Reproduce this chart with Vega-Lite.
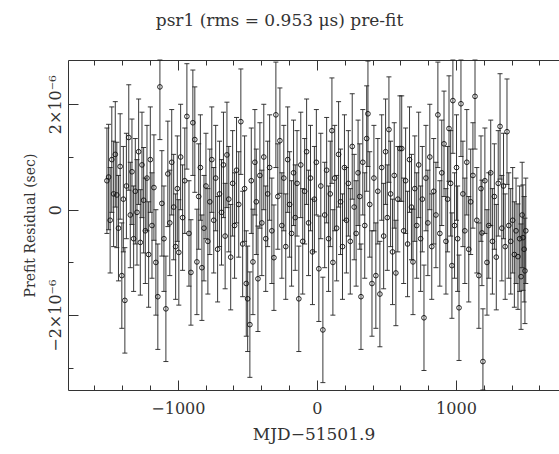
{
  "$schema": "https://vega.github.io/schema/vega-lite/v6.json",
  "width": 491,
  "height": 330,
  "autosize": {"type": "none"},
  "padding": {"left": 68, "top": 60, "right": 0, "bottom": 64},
  "background": "white",
  "title": {
    "text": "psr1 (rms = 0.953 μs) pre-fit",
    "font": "DejaVu Serif",
    "fontSize": 17,
    "fontWeight": "normal",
    "color": "#333",
    "anchor": "middle",
    "frame": "group",
    "dx": -34,
    "offset": 28
  },
  "config": {
    "view": {"stroke": "#333", "strokeWidth": 1, "fill": null},
    "axis": {
      "labelFont": "DejaVu Serif",
      "titleFont": "DejaVu Serif",
      "labelFontSize": 16,
      "titleFontSize": 17,
      "titleFontWeight": "normal",
      "labelColor": "#333",
      "titleColor": "#333",
      "domainColor": "#333",
      "tickColor": "#333",
      "domainWidth": 1,
      "tickWidth": 1,
      "grid": false,
      "labelOverlap": false,
      "zindex": 1
    }
  },
  "data": {
    "values": [
      {"mjd": -1510, "res": 0.55, "err": 1.0},
      {"mjd": -1498, "res": 0.62, "err": 1.0},
      {"mjd": -1487, "res": -0.2, "err": 1.0},
      {"mjd": -1475, "res": 0.95, "err": 1.0},
      {"mjd": -1462, "res": 0.3, "err": 1.0},
      {"mjd": -1450, "res": 1.05, "err": 1.0},
      {"mjd": -1439, "res": 0.28, "err": 1.0},
      {"mjd": -1427, "res": -0.35, "err": 1.0},
      {"mjd": -1415, "res": 0.82, "err": 1.0},
      {"mjd": -1403, "res": -1.25, "err": 1.0},
      {"mjd": -1392, "res": 0.2, "err": 1.0},
      {"mjd": -1381, "res": -1.72, "err": 1.0},
      {"mjd": -1370, "res": 0.45, "err": 1.0},
      {"mjd": -1353, "res": 1.37, "err": 1.0},
      {"mjd": -1342, "res": -0.1, "err": 1.0},
      {"mjd": -1330, "res": 0.72, "err": 1.0},
      {"mjd": -1318, "res": -0.55, "err": 1.0},
      {"mjd": -1306, "res": 0.35, "err": 1.0},
      {"mjd": -1294, "res": -0.05, "err": 1.0},
      {"mjd": -1282, "res": 1.1, "err": 1.0},
      {"mjd": -1270, "res": -0.62, "err": 1.0},
      {"mjd": -1258, "res": 0.85, "err": 1.0},
      {"mjd": -1246, "res": 0.18, "err": 1.0},
      {"mjd": -1234, "res": -0.4, "err": 1.0},
      {"mjd": -1222, "res": 0.6, "err": 1.0},
      {"mjd": -1210, "res": -0.85, "err": 1.0},
      {"mjd": -1198, "res": 0.95, "err": 1.0},
      {"mjd": -1186, "res": -0.3, "err": 1.0},
      {"mjd": -1172, "res": 0.42, "err": 1.0},
      {"mjd": -1158, "res": -1.0, "err": 1.0},
      {"mjd": -1144, "res": -1.65, "err": 1.0},
      {"mjd": -1129, "res": 2.33, "err": 1.0},
      {"mjd": -1115, "res": 0.12, "err": 1.0},
      {"mjd": -1100, "res": -0.55, "err": 1.0},
      {"mjd": -1086, "res": -1.88, "err": 1.0},
      {"mjd": -1072, "res": 0.68, "err": 1.0},
      {"mjd": -1058, "res": -0.25, "err": 1.0},
      {"mjd": -1044, "res": 0.9, "err": 1.0},
      {"mjd": -1030, "res": 0.05, "err": 1.0},
      {"mjd": -1016, "res": -0.7, "err": 1.0},
      {"mjd": -1004, "res": 0.4, "err": 1.0},
      {"mjd": -993, "res": -0.81, "err": 1.0},
      {"mjd": -980, "res": 1.0, "err": 1.0},
      {"mjd": -966, "res": -0.15, "err": 1.0},
      {"mjd": -950, "res": 0.55, "err": 1.0},
      {"mjd": -935, "res": 1.77, "err": 1.0},
      {"mjd": -920, "res": -0.45, "err": 1.0},
      {"mjd": -906, "res": -1.19, "err": 1.0},
      {"mjd": -892, "res": 1.65, "err": 1.0},
      {"mjd": -878, "res": 1.33, "err": 1.0},
      {"mjd": -863, "res": -0.99, "err": 1.0},
      {"mjd": -850, "res": 0.25, "err": 1.0},
      {"mjd": -838, "res": 0.8, "err": 1.0},
      {"mjd": -827, "res": -1.1, "err": 1.0},
      {"mjd": -812, "res": -0.35, "err": 1.0},
      {"mjd": -798, "res": 0.45, "err": 1.0},
      {"mjd": -784, "res": -0.6, "err": 1.0},
      {"mjd": -770, "res": 0.15, "err": 1.0},
      {"mjd": -756, "res": 0.95, "err": 1.0},
      {"mjd": -742, "res": -0.2, "err": 1.0},
      {"mjd": -728, "res": 0.6, "err": 1.0},
      {"mjd": -714, "res": -0.75, "err": 1.0},
      {"mjd": -700, "res": 0.3, "err": 1.0},
      {"mjd": -686, "res": -0.05, "err": 1.0},
      {"mjd": -672, "res": 0.85, "err": 1.0},
      {"mjd": -660, "res": -0.5, "err": 1.0},
      {"mjd": -647, "res": 1.04, "err": 1.0},
      {"mjd": -634, "res": 0.2, "err": 1.0},
      {"mjd": -620, "res": -0.9, "err": 1.0},
      {"mjd": -606, "res": 0.5, "err": 1.0},
      {"mjd": -592, "res": -0.3, "err": 1.0},
      {"mjd": -578, "res": 0.75, "err": 1.0},
      {"mjd": -562, "res": 0.1, "err": 1.0},
      {"mjd": -547, "res": 1.67, "err": 1.0},
      {"mjd": -534, "res": -0.65, "err": 1.0},
      {"mjd": -520, "res": 0.4, "err": 1.0},
      {"mjd": -508, "res": -1.4, "err": 1.0},
      {"mjd": -498, "res": -1.69, "err": 1.0},
      {"mjd": -482, "res": -2.18, "err": 1.0},
      {"mjd": -472, "res": 0.55, "err": 1.0},
      {"mjd": -460, "res": -0.99, "err": 1.0},
      {"mjd": -446, "res": 0.9, "err": 1.0},
      {"mjd": -436, "res": 0.15, "err": 1.0},
      {"mjd": -424, "res": -1.31, "err": 1.0},
      {"mjd": -410, "res": 0.65, "err": 1.0},
      {"mjd": -396, "res": -0.25, "err": 1.0},
      {"mjd": -382, "res": 1.0, "err": 1.0},
      {"mjd": -368, "res": -0.55, "err": 1.0},
      {"mjd": -354, "res": 0.3, "err": 1.0},
      {"mjd": -340, "res": 0.8, "err": 1.0},
      {"mjd": -324, "res": -0.4, "err": 1.0},
      {"mjd": -309, "res": -0.91, "err": 1.0},
      {"mjd": -295, "res": 1.8, "err": 1.0},
      {"mjd": -281, "res": 0.25, "err": 1.0},
      {"mjd": -266, "res": 1.31, "err": 1.0},
      {"mjd": -252, "res": -0.3, "err": 1.0},
      {"mjd": -238, "res": 0.6, "err": 1.0},
      {"mjd": -224, "res": -0.7, "err": 1.0},
      {"mjd": -210, "res": 0.95, "err": 1.0},
      {"mjd": -196, "res": 0.1, "err": 1.0},
      {"mjd": -182, "res": -0.45, "err": 1.0},
      {"mjd": -168, "res": 0.7, "err": 1.0},
      {"mjd": -156, "res": -0.15, "err": 1.0},
      {"mjd": -143, "res": 0.5, "err": 1.0},
      {"mjd": -130, "res": -1.69, "err": 1.0},
      {"mjd": -116, "res": 0.85, "err": 1.0},
      {"mjd": -102, "res": -0.6, "err": 1.0},
      {"mjd": -88, "res": 0.35, "err": 1.0},
      {"mjd": -74, "res": 1.1, "err": 1.0},
      {"mjd": -60, "res": -0.25, "err": 1.0},
      {"mjd": -46, "res": 0.6, "err": 1.0},
      {"mjd": -32, "res": -0.8, "err": 1.0},
      {"mjd": -18, "res": 0.2, "err": 1.0},
      {"mjd": -4, "res": 0.9, "err": 1.0},
      {"mjd": 14, "res": -1.12, "err": 1.0},
      {"mjd": 28, "res": 0.45, "err": 1.0},
      {"mjd": 43, "res": -2.28, "err": 1.0},
      {"mjd": 56, "res": -0.1, "err": 1.0},
      {"mjd": 70, "res": 0.75, "err": 1.0},
      {"mjd": 84, "res": -0.55, "err": 1.0},
      {"mjd": 96, "res": 0.3, "err": 1.0},
      {"mjd": 108, "res": 1.5, "err": 1.0},
      {"mjd": 115, "res": -1.0, "err": 1.0},
      {"mjd": 128, "res": 0.6, "err": 1.0},
      {"mjd": 142, "res": -0.35, "err": 1.0},
      {"mjd": 156, "res": 1.05, "err": 1.0},
      {"mjd": 170, "res": 0.15, "err": 1.0},
      {"mjd": 184, "res": -0.7, "err": 1.0},
      {"mjd": 198, "res": 0.8, "err": 1.0},
      {"mjd": 212, "res": -0.2, "err": 1.0},
      {"mjd": 226, "res": 0.5, "err": 1.0},
      {"mjd": 240, "res": -0.6, "err": 1.0},
      {"mjd": 254, "res": 1.2, "err": 1.0},
      {"mjd": 268, "res": 0.05, "err": 1.0},
      {"mjd": 282, "res": -0.45, "err": 1.0},
      {"mjd": 296, "res": 0.7, "err": 1.0},
      {"mjd": 308, "res": 0.25, "err": 1.0},
      {"mjd": 317, "res": -1.65, "err": 1.0},
      {"mjd": 330, "res": 0.9, "err": 1.0},
      {"mjd": 344, "res": -0.3, "err": 1.0},
      {"mjd": 358, "res": 1.35, "err": 1.0},
      {"mjd": 367, "res": 1.82, "err": 1.0},
      {"mjd": 380, "res": 0.1, "err": 1.0},
      {"mjd": 396, "res": -1.4, "err": 1.0},
      {"mjd": 410, "res": 0.6, "err": 1.0},
      {"mjd": 424, "res": -1.25, "err": 1.0},
      {"mjd": 438, "res": 0.35, "err": 1.0},
      {"mjd": 453, "res": -1.6, "err": 1.0},
      {"mjd": 466, "res": 0.8, "err": 1.0},
      {"mjd": 480, "res": -0.5, "err": 1.0},
      {"mjd": 494, "res": 1.1, "err": 1.0},
      {"mjd": 506, "res": -0.15, "err": 1.0},
      {"mjd": 518, "res": 1.52, "err": 1.0},
      {"mjd": 530, "res": 0.3, "err": 1.0},
      {"mjd": 544, "res": -0.8, "err": 1.0},
      {"mjd": 556, "res": 0.65, "err": 1.0},
      {"mjd": 568, "res": -1.2, "err": 1.0},
      {"mjd": 582, "res": 0.2, "err": 1.0},
      {"mjd": 597, "res": 1.16, "err": 1.0},
      {"mjd": 610, "res": 1.16, "err": 1.0},
      {"mjd": 624, "res": -0.4, "err": 1.0},
      {"mjd": 638, "res": 0.55, "err": 1.0},
      {"mjd": 652, "res": -0.65, "err": 1.0},
      {"mjd": 666, "res": 0.95, "err": 1.0},
      {"mjd": 680, "res": 0.05, "err": 1.0},
      {"mjd": 691, "res": -0.99, "err": 1.0},
      {"mjd": 704, "res": 0.4, "err": 1.0},
      {"mjd": 718, "res": -0.3, "err": 1.0},
      {"mjd": 732, "res": 0.85, "err": 1.0},
      {"mjd": 746, "res": -0.55, "err": 1.0},
      {"mjd": 758, "res": 0.2, "err": 1.0},
      {"mjd": 770, "res": -2.05, "err": 1.0},
      {"mjd": 784, "res": 0.6, "err": 1.0},
      {"mjd": 798, "res": -0.25, "err": 1.0},
      {"mjd": 812, "res": 1.0, "err": 1.0},
      {"mjd": 826, "res": -0.7, "err": 1.0},
      {"mjd": 840, "res": 0.35, "err": 1.0},
      {"mjd": 856, "res": -0.1, "err": 1.0},
      {"mjd": 870, "res": 1.8, "err": 1.0},
      {"mjd": 884, "res": -0.45, "err": 1.0},
      {"mjd": 898, "res": 0.7, "err": 1.0},
      {"mjd": 914, "res": 1.25, "err": 1.0},
      {"mjd": 928, "res": -0.6, "err": 1.0},
      {"mjd": 940, "res": 0.2, "err": 1.0},
      {"mjd": 950, "res": 1.54, "err": 1.0},
      {"mjd": 962, "res": 0.5, "err": 1.0},
      {"mjd": 971, "res": -1.06, "err": 1.0},
      {"mjd": 978, "res": 2.07, "err": 1.0},
      {"mjd": 990, "res": -0.3, "err": 1.0},
      {"mjd": 1004, "res": 0.8, "err": 1.0},
      {"mjd": 1012, "res": -0.55, "err": 1.0},
      {"mjd": 1022, "res": -1.86, "err": 1.0},
      {"mjd": 1036, "res": 2.01, "err": 1.0},
      {"mjd": 1050, "res": 0.3, "err": 1.0},
      {"mjd": 1064, "res": -0.4, "err": 1.0},
      {"mjd": 1078, "res": 0.9, "err": 1.0},
      {"mjd": 1092, "res": -0.75, "err": 1.0},
      {"mjd": 1106, "res": 0.15, "err": 1.0},
      {"mjd": 1122, "res": 0.65, "err": 1.0},
      {"mjd": 1137, "res": 2.15, "err": 1.0},
      {"mjd": 1150, "res": -0.2, "err": 1.0},
      {"mjd": 1165, "res": -1.25, "err": 1.0},
      {"mjd": 1180, "res": 0.4, "err": 1.0},
      {"mjd": 1187, "res": -0.44, "err": 1.0},
      {"mjd": 1194, "res": -2.88, "err": 1.0},
      {"mjd": 1208, "res": 0.55, "err": 1.0},
      {"mjd": 1223, "res": -1.0, "err": 1.0},
      {"mjd": 1236, "res": -0.3, "err": 1.0},
      {"mjd": 1250, "res": 0.7, "err": 1.0},
      {"mjd": 1262, "res": -0.6, "err": 1.0},
      {"mjd": 1276, "res": 0.25, "err": 1.0},
      {"mjd": 1290, "res": -0.9, "err": 1.0},
      {"mjd": 1304, "res": 0.5, "err": 1.0},
      {"mjd": 1317, "res": 1.58, "err": 1.0},
      {"mjd": 1330, "res": -0.35, "err": 1.0},
      {"mjd": 1342, "res": 0.45, "err": 1.0},
      {"mjd": 1354, "res": -0.7, "err": 1.0},
      {"mjd": 1367, "res": 1.48, "err": 1.0},
      {"mjd": 1380, "res": -0.3, "err": 1.0},
      {"mjd": 1394, "res": -0.6, "err": 1.0},
      {"mjd": 1408, "res": -0.2, "err": 1.0},
      {"mjd": 1420, "res": -0.85, "err": 1.0},
      {"mjd": 1432, "res": -0.4, "err": 1.0},
      {"mjd": 1446, "res": -0.89, "err": 1.0},
      {"mjd": 1458, "res": -0.55, "err": 1.0},
      {"mjd": 1468, "res": -1.27, "err": 1.0},
      {"mjd": 1476, "res": -0.1, "err": 1.0},
      {"mjd": 1482, "res": -0.53, "err": 1.0},
      {"mjd": 1490, "res": -0.75, "err": 1.0},
      {"mjd": 1496, "res": -1.16, "err": 1.0},
      {"mjd": 1502, "res": -0.4, "err": 1.0}
    ]
  },
  "transform": [
    {"calculate": "datum.res - datum.err", "as": "lo"},
    {"calculate": "datum.res + datum.err", "as": "hi"}
  ],
  "layer": [
    {
      "mark": {"type": "rule", "color": "#222", "strokeWidth": 0.9},
      "encoding": {
        "x": {
          "field": "mjd",
          "type": "quantitative",
          "scale": {"domain": [-1790, 1741], "nice": false, "zero": false},
          "axis": {
            "orient": "bottom",
            "title": "MJD−51501.9",
            "values": [-1000, 0, 1000],
            "format": "d",
            "domain": false,
            "ticks": false,
            "labelPadding": 10,
            "titlePadding": 10
          }
        },
        "y": {
          "field": "lo",
          "type": "quantitative",
          "scale": {"domain": [-3.42, 2.84], "nice": false, "zero": false, "clamp": true},
          "axis": {
            "orient": "left",
            "title": "Prefit Residual (sec)",
            "titleFontSize": 14,
            "values": [-2, 0, 2],
            "labelExpr": "datum.value == 0 ? '0' : datum.value == 2 ? '2×10⁻⁶' : '−2×10⁻⁶'",
            "domain": false,
            "ticks": false,
            "labelAngle": 270,
            "labelAlign": "center",
            "labelBaseline": "bottom",
            "labelPadding": 5,
            "titlePadding": 10
          }
        },
        "y2": {"field": "hi"}
      }
    },
    {
      "mark": {"type": "point", "shape": "stroke", "filled": false, "size": 25, "stroke": "#222", "strokeWidth": 0.9, "opacity": 1},
      "encoding": {
        "x": {
          "field": "mjd",
          "type": "quantitative",
          "axis": {
            "orient": "bottom",
            "title": null,
            "values": [-1000, 0, 1000],
            "labels": false,
            "domain": false,
            "ticks": true,
            "tickSize": 10,
            "offset": -10
          }
        },
        "y": {
          "field": "hi",
          "type": "quantitative",
          "axis": {
            "orient": "left",
            "title": null,
            "values": [-2, 0, 2],
            "labels": false,
            "domain": false,
            "ticks": true,
            "tickSize": 10,
            "offset": -10
          }
        }
      }
    },
    {
      "mark": {"type": "point", "shape": "stroke", "filled": false, "size": 25, "stroke": "#222", "strokeWidth": 0.9, "opacity": 1},
      "encoding": {
        "x": {
          "field": "mjd",
          "type": "quantitative",
          "axis": {
            "orient": "bottom",
            "title": null,
            "values": [-1600, -1400, -1200, -800, -600, -400, -200, 200, 400, 600, 800, 1200, 1400, 1600],
            "labels": false,
            "domain": false,
            "ticks": true,
            "tickSize": 5,
            "offset": -5
          }
        },
        "y": {
          "field": "lo",
          "type": "quantitative",
          "axis": {
            "orient": "left",
            "title": null,
            "values": [-3, -1, 1],
            "labels": false,
            "domain": false,
            "ticks": true,
            "tickSize": 5,
            "offset": -5
          }
        }
      }
    },
    {
      "mark": {"type": "point", "shape": "circle", "filled": false, "size": 22, "stroke": "#111", "strokeWidth": 0.9, "opacity": 1},
      "encoding": {
        "x": {
          "field": "mjd",
          "type": "quantitative",
          "axis": {
            "orient": "top",
            "title": null,
            "values": [-1000, 0, 1000],
            "labels": false,
            "domain": false,
            "ticks": true,
            "tickSize": 10,
            "offset": -10
          }
        },
        "y": {"field": "res", "type": "quantitative", "axis": null}
      }
    },
    {
      "mark": {"type": "rule", "opacity": 0},
      "encoding": {
        "x": {
          "field": "mjd",
          "type": "quantitative",
          "axis": {
            "orient": "top",
            "title": null,
            "values": [-1600, -1400, -1200, -800, -600, -400, -200, 200, 400, 600, 800, 1200, 1400, 1600],
            "labels": false,
            "domain": false,
            "ticks": true,
            "tickSize": 5,
            "offset": -5
          }
        },
        "y": {"field": "lo", "type": "quantitative", "axis": null},
        "y2": {"field": "hi"}
      }
    }
  ],
  "resolve": {"axis": {"x": "independent", "y": "independent"}}
}
